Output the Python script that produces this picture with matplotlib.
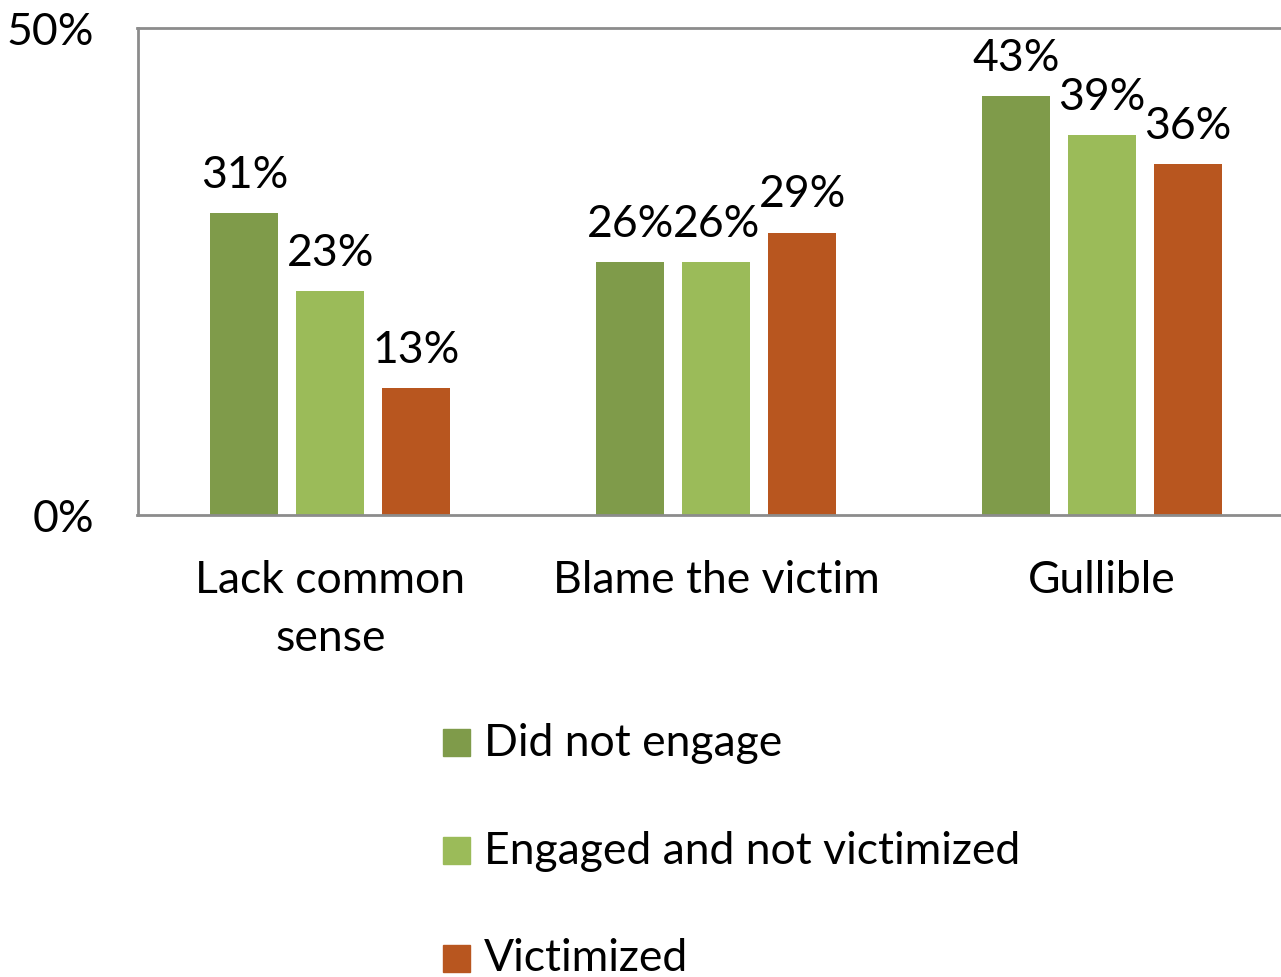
import matplotlib
matplotlib.use("Agg")
import matplotlib.pyplot as plt
import numpy as np
from matplotlib.patches import Rectangle

categories = ["Lack common\nsense", "Blame the victim", "Gullible"]
series_names = ["Did not engage", "Engaged and not victimized", "Victimized"]
did_not_engage = [31, 26, 43]
engaged_not_victimized = [23, 26, 39]
victimized = [13, 29, 36]
y_ticks = [0, 50]
y_tick_labels = ["0%", "50%"]

colors = ["#7F9B4A", "#9BBB59", "#B8561F"]
axis_color = "#8C8C8C"

plt.rcParams["font.family"] = ["Lato", "DejaVu Sans"]
FS = 32

W, H = 1281, 978
fig = plt.figure(figsize=(W / 100, H / 100), dpi=100)
# axes box in pixel coords: left 137, right 1295, top 29, bottom 516
left, right, top, bottom = 137.5, 1295, 29, 516
ax = fig.add_axes([left / W, 1 - bottom / H, (right - left) / W, (bottom - top) / H])

values = [did_not_engage, engaged_not_victimized, victimized]
x = np.arange(len(categories))
width = 68 / 386
step = 86 / 386
for i, (vals, c) in enumerate(zip(values, colors)):
    pos = x + (i - 1) * step
    ax.bar(pos, vals, width=width, color=c, zorder=2)
    for px, v in zip(pos, vals):
        ax.annotate(f"{v}%", (px, v), xytext=(0, 13), textcoords="offset points",
                    ha="center", va="bottom", fontsize=FS, color="black")

ax.set_xlim(-0.5, 2.5)
ax.set_ylim(0, 50)
ax.set_yticks(y_ticks)
ax.set_yticklabels(y_tick_labels, fontsize=FS)
ax.set_xticks(x)
ax.set_xticklabels(categories, fontsize=FS, linespacing=1.5)
ax.tick_params(axis="both", length=0)
ax.tick_params(axis="x", pad=32)
ax.tick_params(axis="y", pad=31)
for side in ["left", "top", "bottom", "right"]:
    ax.spines[side].set_color(axis_color)
    ax.spines[side].set_linewidth(2)

# legend stacked vertically below the chart
leg_y = [743, 851, 959]
for name, c, yy in zip(series_names, colors, leg_y):
    fig.patches.append(Rectangle((443 / W, 1 - (yy + 14) / H), 27 / W, 27 / H,
                                 transform=fig.transFigure, color=c))
    fig.text(484 / W, 1 - yy / H, name, fontsize=FS, va="center", ha="left")

fig.savefig("out.png", dpi=100, facecolor="white")
